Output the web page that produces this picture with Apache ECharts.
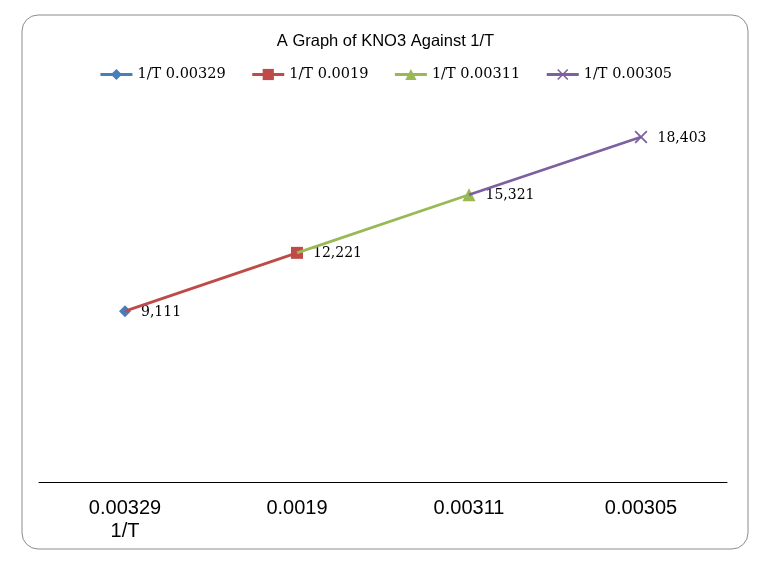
<!DOCTYPE html>
<html><head><meta charset="utf-8">
<script src="https://cdn.jsdelivr.net/npm/echarts@6/dist/echarts.min.js"></script>
<style>html,body{margin:0;padding:0;background:#fff}#c{width:771px;height:563px}</style>
</head><body><div id="c"></div>
<script>
const categories = ['0.00329\n1/T', '0.0019', '0.00311', '0.00305'];
const seriesNames = ['1/T 0.00329', '1/T 0.0019', '1/T 0.00311', '1/T 0.00305'];
const values = [9111, 12221, 15321, 18403];
const colors = ['#4A7EBB', '#BE4B48', '#98B954', '#7D60A0'];
const symbols = ['diamond', 'rect', 'triangle', 'path://M0,1L1,0L5,4L9,0L10,1L6,5L10,9L9,10L5,6L1,10L0,9L4,5Z'];
const symbolSizes = [12, 12, 13, 13];

const chart = echarts.init(document.getElementById('c'), null, {renderer: 'canvas'});
const series = seriesNames.map((name, i) => {
  const data = categories.map(() => null);
  if (i > 0) data[i - 1] = {value: values[i - 1], symbol: 'none', label: {show: false}};
  data[i] = {value: values[i]};
  return {
    name, type: 'line', data,
    color: colors[i],
    symbol: symbols[i], symbolSize: symbolSizes[i],
    showAllSymbol: true,
    lineStyle: {width: 2.75, color: colors[i]},
    itemStyle: {color: colors[i], borderWidth: 0},
    label: {
      show: true, position: 'right', distance: 10, offset: [0, 1],
      fontFamily: 'DejaVu Serif', fontSize: 14, color: '#000',
      formatter: p => p.value.toLocaleString('en-US')
    },
    connectNulls: false,
    animation: false,
    z: 2 + i
  };
});

chart.setOption({
  backgroundColor: '#fff',
  animation: false,
  graphic: [{
    type: 'rect', shape: {x: 22, y: 15, width: 726, height: 534, r: 16},
    style: {fill: 'none', stroke: '#8c8c8c', lineWidth: 1}, z: -1
  }],
  title: {
    text: 'A Graph of KNO3 Against 1/T', left: 'center', top: 28,
    textStyle: {fontFamily: 'Liberation Sans', fontSize: 16.5, fontWeight: 'normal', color: '#000'}
  },
  legend: {
    top: 62, left: 'center', itemWidth: 32, itemHeight: 14, itemGap: 25,
    lineStyle: {width: 3},
    textStyle: {fontFamily: 'DejaVu Serif', fontSize: 14.5, color: '#000'},
    data: seriesNames
  },
  grid: {left: 39, right: 44, top: 107, bottom: 81},
  xAxis: {
    type: 'category', data: categories, boundaryGap: true,
    axisLine: {lineStyle: {color: '#000', width: 1}},
    axisTick: {show: false},
    axisLabel: {fontFamily: 'Liberation Sans', fontSize: 20, color: '#000', margin: 15, lineHeight: 23}
  },
  yAxis: {type: 'value', min: 0, max: 20000, show: false, splitLine: {show: false}},
  series
});
</script></body></html>
